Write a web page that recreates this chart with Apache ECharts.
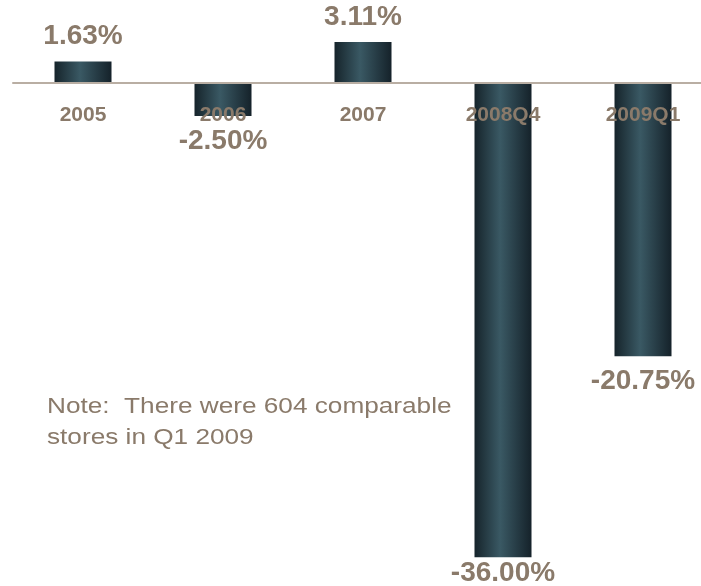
<!DOCTYPE html>
<html>
<head>
<meta charset="utf-8">
<script src="https://cdn.jsdelivr.net/npm/echarts@6/dist/echarts.min.js"></script>
<style>
  html, body { margin: 0; padding: 0; background: #ffffff; }
  #chart { width: 701px; height: 586px; }
</style>
</head>
<body>
<div id="chart"></div>
<script>
// Comparable store sales change, by period
const categories = ['2005', '2006', '2007', '2008Q4', '2009Q1'];
const values = [1.63, -2.50, 3.11, -36.00, -20.75];
const valueLabels = ['1.63%', '-2.50%', '3.11%', '-36.00%', '-20.75%'];
const noteLines = ['Note:  There were 604 comparable', 'stores in Q1 2009'];

const textColor = '#8a7a6a';
const fontStack = '"Liberation Sans", Arial, sans-serif';
const barFill = new echarts.graphic.LinearGradient(0, 0, 1, 0, [
  { offset: 0, color: '#16242b' },
  { offset: 0.45, color: '#3a5964' },
  { offset: 1, color: '#15222a' }
]);

// plot box: zero line sits 79px below the top edge
const yMin = -38, yMax = 6;
const gridTop = 4, gridHeight = 579.5;
const zeroOffset = gridHeight * yMax / (yMax - yMin);

const chart = echarts.init(document.getElementById('chart'), null, { renderer: 'canvas' });

const seriesData = values.map(function (v, i) {
  const item = {
    value: v,
    label: {
      position: v >= 0 ? 'top' : 'bottom',
      distance: 11,
      formatter: valueLabels[i]
    }
  };
  // the deepest bar keeps its label tucked close so it stays on the page
  if (i === 3) item.label.distance = 2;
  return item;
});

chart.setOption({
  animation: false,
  backgroundColor: '#ffffff',
  grid: {
    left: 13, top: gridTop, width: 700, height: gridHeight,
    containLabel: false, outerBoundsMode: 'none'
  },
  xAxis: {
    type: 'category',
    data: categories,
    position: 'top',
    offset: -zeroOffset,
    z: 10,
    axisLine: { show: true, onZero: false, lineStyle: { color: '#b9aea3', width: 2 } },
    axisTick: { show: false },
    axisLabel: {
      inside: true,
      margin: 22,
      color: textColor,
      fontFamily: fontStack,
      fontWeight: 'bold',
      fontSize: 21
    },
    splitLine: { show: false }
  },
  yAxis: {
    type: 'value',
    min: yMin,
    max: yMax,
    show: false,
    splitLine: { show: false }
  },
  series: [{
    type: 'bar',
    data: seriesData,
    barWidth: 57,
    itemStyle: { color: barFill },
    label: {
      show: true,
      color: textColor,
      fontFamily: fontStack,
      fontWeight: 'bold',
      fontSize: 28
    }
  }],
  graphic: [{
    type: 'text',
    x: 47,
    y: 391.5,
    scaleX: 1.19,
    style: {
      text: noteLines.join('\n'),
      fill: textColor,
      font: '22px ' + fontStack,
      lineHeight: 31
    }
  }]
});
</script>
</body>
</html>
